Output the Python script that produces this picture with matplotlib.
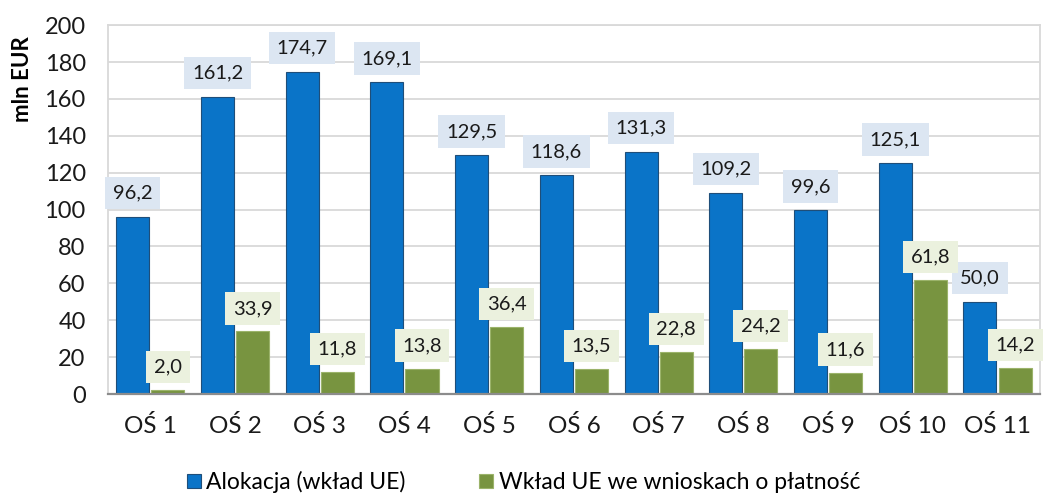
import matplotlib
matplotlib.use("Agg")
import matplotlib.pyplot as plt
import numpy as np

categories = ["OŚ 1", "OŚ 2", "OŚ 3", "OŚ 4", "OŚ 5", "OŚ 6", "OŚ 7", "OŚ 8", "OŚ 9", "OŚ 10", "OŚ 11"]
alokacja = [96.2, 161.2, 174.7, 169.1, 129.5, 118.6, 131.3, 109.2, 99.6, 125.1, 50.0]
wklad = [2.0, 33.9, 11.8, 13.8, 36.4, 13.5, 22.8, 24.2, 11.6, 61.8, 14.2]
series_names = ["Alokacja (wkład UE)", "Wkład UE we wnioskach o płatność"]
yticks = list(range(0, 201, 20))

plt.rcParams['font.family'] = ['Lato', 'DejaVu Sans']

fig = plt.figure(figsize=(10.43, 4.94), dpi=100)
ax = fig.add_axes([0.1035, 0.2024, 0.8935, 0.7466])

x = np.arange(len(categories))
w = 0.39
blue = "#0a74c8"
green = "#789440"
b1 = ax.bar(x - w/2 - 0.012, alokacja, w, color=blue, edgecolor="#1f4e79", linewidth=0.8, zorder=3, label=series_names[0])
b2 = ax.bar(x + w/2 + 0.012, wklad, w, color=green, edgecolor="#9bb36a", linewidth=0.8, zorder=3, label=series_names[1])

def fmt(v):
    return f"{v:.1f}".replace(".", ",")

for rect, v in zip(b1, alokacja):
    ax.annotate(fmt(v), (rect.get_x() + rect.get_width()/2, v), xytext=(0, 11), textcoords="offset points",
                ha="center", va="bottom", fontsize=14.5, color="#1a1a1a", zorder=5,
                bbox=dict(boxstyle="square,pad=0.38", facecolor="#dce6f2", edgecolor="none"))
for rect, v in zip(b2, wklad):
    ax.annotate(fmt(v), (rect.get_x() + rect.get_width()/2, v), xytext=(0, 10.5), textcoords="offset points",
                ha="center", va="bottom", fontsize=14.5, color="#1a1a1a", zorder=5,
                bbox=dict(boxstyle="square,pad=0.38", facecolor="#ebf1de", edgecolor="none"))

ax.set_xlim(-0.5, len(categories) - 0.5)
ax.set_ylim(0, 200)
ax.set_yticks(yticks)
ax.set_yticklabels([str(t) for t in yticks], fontsize=17)
ax.set_xticks(x)
ax.set_xticklabels(categories, fontsize=17.5)
ax.tick_params(axis="both", length=0, colors="#1a1a1a")
ax.tick_params(axis="x", pad=15)
ax.tick_params(axis="y", pad=16)
ax.grid(axis="y", color="#d9d9d9", linewidth=1.3, zorder=0)
for s in ["top", "left", "right"]:
    ax.spines[s].set_color("#d9d9d9")
    ax.spines[s].set_linewidth(1.3)
ax.spines["bottom"].set_color("#8c8c8c")
ax.spines["bottom"].set_linewidth(1.6)
ax.spines["bottom"].set_zorder(4)
ax.set_ylabel("mln EUR", fontsize=16, fontweight="bold")
ax.yaxis.set_label_coords(-0.080, 0.854)

fig.legend(handles=[b1, b2], labels=series_names, loc="lower center", bbox_to_anchor=(0.502, -0.04),
           ncol=2, frameon=False, fontsize=16.5, handlelength=0.6, handleheight=0.6,
           handletextpad=0.25, columnspacing=3.2)

fig.savefig("out.png", dpi=100)
